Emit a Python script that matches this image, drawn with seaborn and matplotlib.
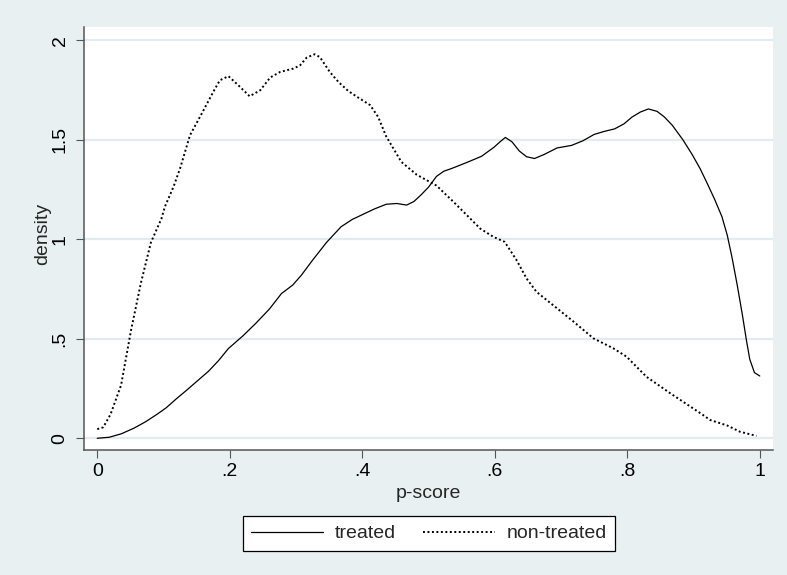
import matplotlib
matplotlib.use("Agg")
import matplotlib.pyplot as plt
import pandas as pd
import seaborn as sns

# Kernel density estimates of the propensity score by group
treated_x = [0.0, 0.018, 0.036, 0.055, 0.073, 0.090, 0.104, 0.120, 0.134, 0.150,
             0.168, 0.183, 0.198, 0.220, 0.240, 0.260, 0.278, 0.295, 0.308, 0.325,
             0.346, 0.368, 0.385, 0.399, 0.418, 0.436, 0.452, 0.467, 0.478, 0.489,
             0.500, 0.512, 0.523, 0.535, 0.557, 0.580, 0.599, 0.608, 0.616, 0.626,
             0.637, 0.648, 0.660, 0.675, 0.694, 0.716, 0.733, 0.750, 0.765, 0.781,
             0.795, 0.807, 0.820, 0.832, 0.845, 0.856, 0.868, 0.884, 0.898, 0.910,
             0.921, 0.932, 0.943, 0.951, 0.958, 0.966, 0.974, 0.980, 0.985, 0.992,
             1.0]
treated_y = [0.0, 0.005, 0.022, 0.050, 0.083, 0.120, 0.153, 0.200, 0.239, 0.285,
             0.337, 0.390, 0.451, 0.515, 0.580, 0.650, 0.727, 0.770, 0.819, 0.895,
             0.984, 1.063, 1.100, 1.122, 1.152, 1.176, 1.180, 1.172, 1.190, 1.224,
             1.262, 1.316, 1.342, 1.356, 1.385, 1.417, 1.463, 1.490, 1.512, 1.490,
             1.444, 1.415, 1.406, 1.427, 1.459, 1.472, 1.495, 1.527, 1.542, 1.555,
             1.580, 1.614, 1.640, 1.655, 1.643, 1.615, 1.573, 1.500, 1.426, 1.355,
             1.279, 1.200, 1.113, 1.020, 0.911, 0.770, 0.616, 0.490, 0.396, 0.330,
             0.313]

nontreated_x = [0.0, 0.009, 0.020, 0.036, 0.051, 0.066, 0.081, 0.097, 0.102, 0.115,
                0.125, 0.140, 0.155, 0.175, 0.185, 0.198, 0.213, 0.230, 0.246, 0.261,
                0.276, 0.296, 0.306, 0.316, 0.328, 0.336, 0.351, 0.364, 0.379, 0.394,
                0.412, 0.424, 0.436, 0.459, 0.482, 0.512, 0.535, 0.558, 0.578, 0.598,
                0.615, 0.633, 0.648, 0.663, 0.688, 0.719, 0.749, 0.779, 0.799, 0.829,
                0.865, 0.913, 0.925, 0.951, 0.970, 0.995]
nontreated_y = [0.046, 0.055, 0.120, 0.267, 0.543, 0.782, 0.984, 1.105, 1.163, 1.263,
                1.356, 1.523, 1.615, 1.740, 1.799, 1.820, 1.774, 1.719, 1.749, 1.813,
                1.841, 1.858, 1.874, 1.913, 1.930, 1.916, 1.841, 1.791, 1.745, 1.712,
                1.674, 1.615, 1.518, 1.389, 1.325, 1.270, 1.197, 1.121, 1.054, 1.012,
                0.987, 0.895, 0.803, 0.736, 0.669, 0.586, 0.502, 0.452, 0.410, 0.309,
                0.226, 0.120, 0.092, 0.064, 0.033, 0.012]

series_names = ["treated", "non-treated"]
x_ticks = [0.0, 0.2, 0.4, 0.6, 0.8, 1.0]
x_tick_labels = ["0", ".2", ".4", ".6", ".8", "1"]
y_ticks = [0.0, 0.5, 1.0, 1.5, 2.0]
y_tick_labels = ["0", ".5", "1", "1.5", "2"]

sns.set_theme(style="white")
plt.rcParams["font.family"] = ["Liberation Sans", "DejaVu Sans"]

BG = "#E9F0F2"
GRID = "#E2EBEE"
AXIS = "#555555"
FS = 14

fig = plt.figure(figsize=(7.87, 5.75), dpi=100, facecolor=BG)
ax = fig.add_axes([84 / 787, 1 - 450 / 575, (773 - 84) / 787, (450 - 27) / 575])
ax.set_facecolor("white")

df_t = pd.DataFrame({"pscore": treated_x, "density": treated_y})
df_n = pd.DataFrame({"pscore": nontreated_x, "density": nontreated_y})

sns.lineplot(data=df_t, x="pscore", y="density", ax=ax, color="black",
             linewidth=0.9, estimator=None, sort=False, legend=False)
sns.lineplot(data=df_n, x="pscore", y="density", ax=ax, color="black",
             linewidth=1.4, linestyle=(0, (1, 1.3)), estimator=None, sort=False,
             legend=False)

ax.set_xlim(-0.02, 1.02)
ax.set_ylim(-0.059, 2.067)

ax.set_xticks(x_ticks)
ax.set_xticklabels(x_tick_labels)
ax.set_yticks(y_ticks)
ax.set_yticklabels(y_tick_labels, rotation=90, va="center")

ax.grid(axis="y", color=GRID, linewidth=1.6)
ax.grid(axis="x", visible=False)
ax.set_axisbelow(True)

for side in ("top", "right"):
    ax.spines[side].set_visible(False)
for side in ("left", "bottom"):
    ax.spines[side].set_color(AXIS)
    ax.spines[side].set_linewidth(1.1)

ax.tick_params(axis="both", which="major", direction="out", length=6, width=0.8,
               color=AXIS, labelcolor="black", labelsize=FS, left=True, bottom=True)
ax.tick_params(axis="x", pad=3.5)
ax.tick_params(axis="y", pad=5)

ax.set_xlabel("p-score", fontsize=FS, va="center")
ax.set_ylabel("density", fontsize=FS, va="center")
ax.xaxis.set_label_coords(0.5, (450 - 493) / 423)
ax.yaxis.set_label_coords((43 - 84) / 689, 0.51)

leg = fig.legend(handles=ax.lines[:2], labels=series_names, loc="center",
                 bbox_to_anchor=(429 / 787, 1 - 533.5 / 575), ncol=2,
                 frameon=True, fancybox=False, edgecolor="black", facecolor="white",
                 framealpha=1, fontsize=FS, handlelength=3.7, handletextpad=0.58,
                 columnspacing=1.4, borderpad=0.45)
leg.get_frame().set_linewidth(0.9)

fig.savefig("out.png", dpi=100, facecolor=BG)
